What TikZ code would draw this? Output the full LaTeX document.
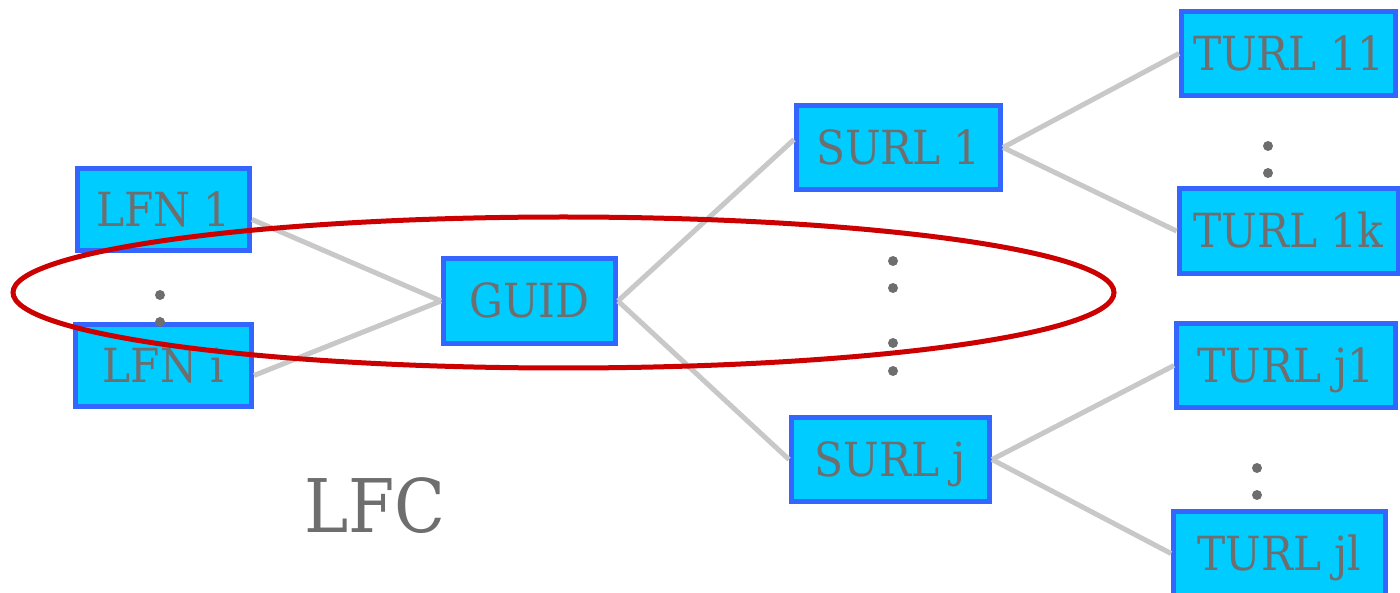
\documentclass[tikz,border=0pt]{standalone}
\usepackage{fontspec}
\setmainfont{DejaVu Serif Condensed}
\definecolor{boxfill}{HTML}{00CCFF}
\definecolor{boxline}{HTML}{3366FF}
\definecolor{txtgray}{HTML}{6E6E6E}
\definecolor{linkgray}{HTML}{C8C8C8}
\definecolor{ringred}{HTML}{CC0000}
\tikzset{
  entry/.style={draw=boxline, fill=boxfill, line width=5pt, inner sep=0pt,
    text=txtgray, font=\fontsize{47}{54}\selectfont, text height=34pt, text depth=0pt},
  link/.style={draw=linkgray, line width=5pt},
  vdot/.style={circle, fill=txtgray, inner sep=0pt, minimum size=10pt},
}
\begin{document}
\begin{tikzpicture}[x=1pt,y=-1pt]
\useasboundingbox (0,0) rectangle (1400,593);
% boxes
\node[entry, minimum width=172pt, minimum height=82pt] (lfn1) at (163.5,209.5) {LFN 1};
\node[entry, minimum width=176pt, minimum height=82pt] (lfni) at (163.5,365.5) {LFN i};
\node[entry, minimum width=172pt, minimum height=85pt] (guid) at (529.5,301) {GUID};
\node[entry, minimum width=204pt, minimum height=84pt] (surl1) at (898.5,147.5) {SURL 1};
\node[entry, minimum width=198pt, minimum height=84pt] (surlj) at (890.5,459.5) {SURL j};
\node[entry, minimum width=214pt, minimum height=84pt] (turl11) at (1288.5,53.5) {TURL 11};
\node[entry, minimum width=219pt, minimum height=85pt] (turl1k) at (1288.5,231) {TURL 1k};
\node[entry, minimum width=219pt, minimum height=84pt] (turlj1) at (1286,365.5) {TURL j1};
\node[entry, minimum width=212pt, minimum height=84pt] (turljl) at (1279.5,553.5) {TURL jl};
% connectors
\draw[link] ([yshift=-10pt]lfn1.east) -- (guid.west);
\draw[link] ([yshift=-10pt]lfni.east) -- (guid.west);
\draw[link] (guid.east) -- ([yshift=8pt]surl1.west);
\draw[link] (guid.east) -- (surlj.west);
\draw[link] (surl1.east) -- (turl11.west);
\draw[link] (surl1.east) -- (turl1k.west);
\draw[link] (surlj.east) -- (turlj1.west);
\draw[link] (surlj.east) -- (turljl.west);
% dots
\node[vdot] (d1) at (160,295) {};
\node[vdot] (d2) at (160,322) {};
\node[vdot] (d3) at (893,261) {};
\node[vdot] (d4) at (893,288) {};
\node[vdot] (d5) at (893,343) {};
\node[vdot] (d6) at (893,371) {};
\node[vdot] (d7) at (1268,146) {};
\node[vdot] (d8) at (1268,173) {};
\node[vdot] (d9) at (1257,468) {};
\node[vdot] (d10) at (1257,495) {};
% ellipse
\draw[ringred, line width=5pt] (563.5,292.5) ellipse [x radius=550.5pt, y radius=75.5pt];
% label
\node[text=txtgray, font=\fontsize{74}{84}\selectfont, inner sep=0pt] (lfc) at (375,506) {LFC};
\end{tikzpicture}
\end{document}
